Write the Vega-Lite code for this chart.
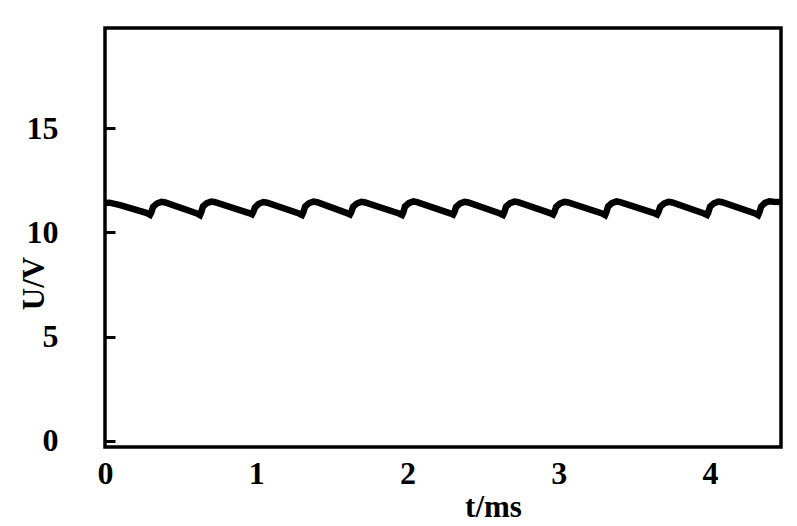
{
  "$schema": "https://vega.github.io/schema/vega-lite/v6.json",
  "autosize": {"type": "none"},
  "padding": {"left": 105, "top": 28, "right": 16, "bottom": 79},
  "width": 676,
  "height": 419,
  "background": "white",
  "config": {
    "view": {"stroke": "black", "strokeWidth": 3.5},
    "axis": {
      "domain": false,
      "grid": false,
      "labelFont": "Liberation Serif",
      "labelFontWeight": "bold",
      "labelFontSize": 32,
      "labelColor": "black",
      "titleFont": "Liberation Serif",
      "titleFontWeight": "bold",
      "titleFontSize": 31,
      "titleColor": "black",
      "labelFlush": false,
      "labelOverlap": false
    }
  },
  "data": {
    "values": [
      {"t": 0.0, "u": 11.4}, {"t": 0.03, "u": 11.42}, {"t": 0.1, "u": 11.3},
      {"t": 0.278, "u": 10.92}, {"t": 0.298, "u": 10.84}, {"t": 0.306, "u": 10.95}, {"t": 0.318, "u": 11.22}, {"t": 0.343, "u": 11.38}, {"t": 0.373, "u": 11.46}, {"t": 0.398, "u": 11.43},
      {"t": 0.608, "u": 10.9}, {"t": 0.628, "u": 10.82}, {"t": 0.636, "u": 10.95}, {"t": 0.648, "u": 11.24}, {"t": 0.673, "u": 11.4}, {"t": 0.703, "u": 11.47}, {"t": 0.728, "u": 11.44},
      {"t": 0.952, "u": 10.92}, {"t": 0.972, "u": 10.86}, {"t": 0.98, "u": 10.97}, {"t": 0.992, "u": 11.2}, {"t": 1.017, "u": 11.37}, {"t": 1.047, "u": 11.45}, {"t": 1.072, "u": 11.42},
      {"t": 1.283, "u": 10.9}, {"t": 1.303, "u": 10.83}, {"t": 1.311, "u": 10.95}, {"t": 1.323, "u": 11.23}, {"t": 1.348, "u": 11.39}, {"t": 1.378, "u": 11.47}, {"t": 1.403, "u": 11.44},
      {"t": 1.6, "u": 10.92}, {"t": 1.62, "u": 10.85}, {"t": 1.628, "u": 10.96}, {"t": 1.64, "u": 11.22}, {"t": 1.665, "u": 11.38}, {"t": 1.695, "u": 11.46}, {"t": 1.72, "u": 11.43},
      {"t": 1.944, "u": 10.9}, {"t": 1.964, "u": 10.83}, {"t": 1.972, "u": 10.95}, {"t": 1.984, "u": 11.24}, {"t": 2.009, "u": 11.4}, {"t": 2.039, "u": 11.48}, {"t": 2.064, "u": 11.45},
      {"t": 2.282, "u": 10.91}, {"t": 2.302, "u": 10.85}, {"t": 2.31, "u": 10.96}, {"t": 2.322, "u": 11.22}, {"t": 2.347, "u": 11.38}, {"t": 2.377, "u": 11.46}, {"t": 2.402, "u": 11.43},
      {"t": 2.612, "u": 10.9}, {"t": 2.632, "u": 10.83}, {"t": 2.64, "u": 10.95}, {"t": 2.652, "u": 11.23}, {"t": 2.677, "u": 11.39}, {"t": 2.707, "u": 11.47}, {"t": 2.732, "u": 11.44},
      {"t": 2.943, "u": 10.92}, {"t": 2.963, "u": 10.85}, {"t": 2.971, "u": 10.96}, {"t": 2.983, "u": 11.22}, {"t": 3.008, "u": 11.38}, {"t": 3.038, "u": 11.46}, {"t": 3.063, "u": 11.43},
      {"t": 3.287, "u": 10.9}, {"t": 3.307, "u": 10.82}, {"t": 3.315, "u": 10.95}, {"t": 3.327, "u": 11.24}, {"t": 3.352, "u": 11.4}, {"t": 3.382, "u": 11.48}, {"t": 3.407, "u": 11.45},
      {"t": 3.631, "u": 10.92}, {"t": 3.651, "u": 10.85}, {"t": 3.659, "u": 10.96}, {"t": 3.671, "u": 11.22}, {"t": 3.696, "u": 11.38}, {"t": 3.726, "u": 11.46}, {"t": 3.751, "u": 11.43},
      {"t": 3.961, "u": 10.9}, {"t": 3.981, "u": 10.83}, {"t": 3.989, "u": 10.95}, {"t": 4.001, "u": 11.23}, {"t": 4.026, "u": 11.39}, {"t": 4.056, "u": 11.47}, {"t": 4.081, "u": 11.44},
      {"t": 4.299, "u": 10.9}, {"t": 4.319, "u": 10.82}, {"t": 4.327, "u": 10.95}, {"t": 4.339, "u": 11.24}, {"t": 4.364, "u": 11.41}, {"t": 4.394, "u": 11.49}, {"t": 4.419, "u": 11.47}, {"t": 4.47, "u": 11.45}
    ]
  },
  "mark": {"type": "line", "color": "black", "strokeWidth": 6.5, "clip": true},
  "encoding": {
    "x": {
      "field": "t",
      "type": "quantitative",
      "scale": {"domain": [0, 4.47], "nice": false, "zero": false},
      "axis": {
        "values": [0, 1, 2, 3, 4],
        "ticks": false,
        "labelPadding": 11,
        "title": "t/ms",
        "titleX": 388,
        "titleY": 69,
        "titleAlign": "center",
        "titleBaseline": "alphabetic",
        "titleAnchor": null
      }
    },
    "y": {
      "field": "u",
      "type": "quantitative",
      "scale": {"domain": [-0.3, 19.8], "nice": false, "zero": false},
      "axis": {
        "values": [0, 5, 10, 15],
        "ticks": true,
        "tickSize": -10,
        "tickWidth": 3,
        "tickColor": "black",
        "labelPadding": 57,
        "title": "U/V",
        "titleX": -62,
        "titleY": 255,
        "titleAngle": -90,
        "titleAlign": "center",
        "titleBaseline": "alphabetic",
        "titleAnchor": null
      }
    }
  }
}
